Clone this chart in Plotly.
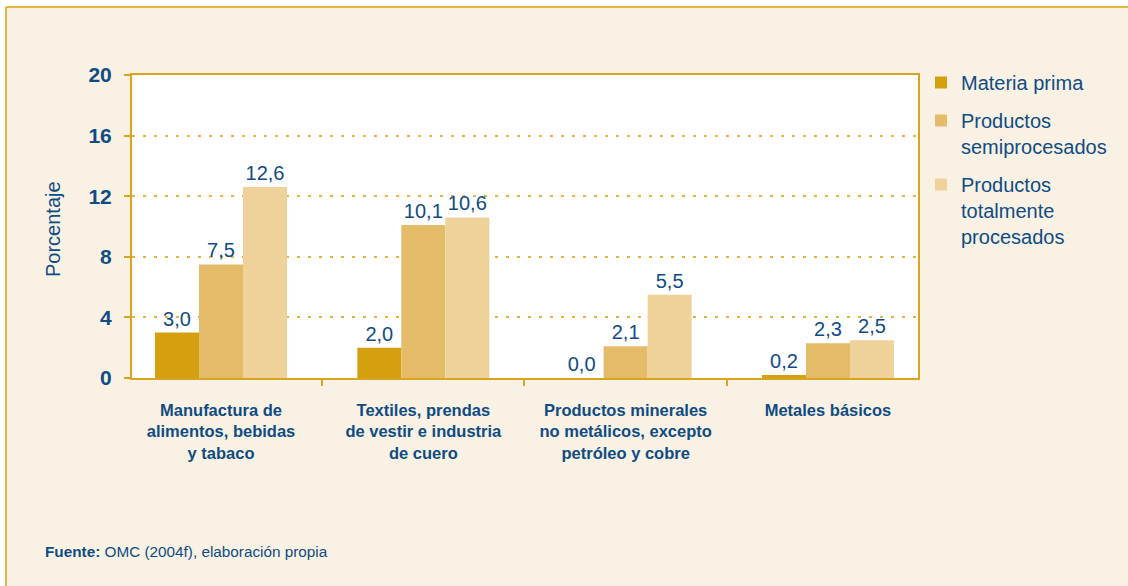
import plotly.graph_objects as go

categories = [
    "Manufactura de<br>alimentos, bebidas<br>y tabaco",
    "Textiles, prendas<br>de vestir e industria<br>de cuero",
    "Productos minerales<br>no metálicos, excepto<br>petróleo y cobre",
    "Metales básicos",
]
series_names = ["Materia prima", "Productos<br>semiprocesados", "Productos<br>totalmente<br>procesados"]
materia_prima = [3.0, 2.0, 0.0, 0.2]
semiprocesados = [7.5, 10.1, 2.1, 2.3]
totalmente_procesados = [12.6, 10.6, 5.5, 2.5]
y_ticks = [0, 4, 8, 12, 16, 20]

colors = ["#D4A010", "#E3BB69", "#EED29A"]
BLUE = "#0F4C84"
GOLD = "#D9A520"
CREAM = "#F9F1E3"
FONT = "Liberation Sans, Arial, sans-serif"

fig = go.Figure()
for i, (name, vals) in enumerate(zip(series_names, [materia_prima, semiprocesados, totalmente_procesados])):
    fig.add_trace(go.Bar(
        x=categories, y=vals, name=name,
        marker=dict(color=colors[i], line=dict(width=0)),
        texttemplate="%{y:.1f}", textposition="outside",
        textfont=dict(family=FONT, size=20, color=BLUE),
        constraintext="none", cliponaxis=False,
        legendgroup=f"g{i}",
    ))

# plot area pixel geometry
L, R, T, B = 132, 918, 75, 378
W, H = 1128, 586
def px(x):
    return (x - L) / (R - L)
def py(y):
    return (B - y) / (B - T)

shapes = [
    dict(type="rect", xref="paper", yref="paper", x0=px(-5), x1=px(6), y0=py(600), y1=py(-5),
         fillcolor="white", line=dict(width=0), layer="below"),
    dict(type="rect", xref="paper", yref="paper", x0=px(-5), x1=px(1135), y0=py(7), y1=py(-5),
         fillcolor="white", line=dict(width=0), layer="below"),
    dict(type="line", xref="paper", yref="paper", x0=px(6), x1=px(6), y0=py(7), y1=py(600),
         line=dict(color="#E3B445", width=2)),
    dict(type="line", xref="paper", yref="paper", x0=px(6), x1=px(1135), y0=py(7), y1=py(7),
         line=dict(color="#E3B445", width=2)),
]

annotations = [
    dict(text="Porcentaje", xref="paper", yref="paper", x=px(53), y=py(229), textangle=-90,
         showarrow=False, font=dict(family=FONT, size=20, color=BLUE), xanchor="center", yanchor="middle"),
    dict(text="<b>Fuente:</b> OMC (2004f), elaboración propia", xref="paper", yref="paper",
         x=px(43), y=py(551), showarrow=False, xanchor="left", yanchor="middle",
         font=dict(family=FONT, size=15.3, color=BLUE)),
]

fig.update_layout(
    width=W, height=H,
    margin=dict(l=L, r=W - R, t=T, b=H - B, autoexpand=False),
    paper_bgcolor=CREAM, plot_bgcolor="white",
    barmode="group", bargap=0.3475, bargroupgap=0,
    separators=",.",
    showlegend=True,
    legend=dict(x=px(921), y=py(63), xanchor="left", yanchor="top",
                font=dict(family=FONT, size=20, color=BLUE), valign="top",
                tracegroupgap=9, bgcolor="rgba(0,0,0,0)", traceorder="grouped"),
    shapes=shapes, annotations=annotations,
    xaxis=dict(range=[-0.44, 3.445], showline=True, linecolor=GOLD, linewidth=2, mirror=True,
               ticks="outside", tickson="boundaries", ticklen=6, tickcolor=GOLD, tickwidth=2,
               tickfont=dict(family=FONT, size=16.5, color=BLUE, weight="bold"),
               ticklabelstandoff=16,
               showgrid=False),
    yaxis=dict(range=[0, 20], tickvals=y_ticks, showline=True, linecolor=GOLD, linewidth=2, mirror=True,
               ticks="outside", ticklen=6, tickcolor=GOLD, tickwidth=2,
               tickfont=dict(family=FONT, size=21, color=BLUE, weight="bold"),
               ticklabelstandoff=8,
               showgrid=True, gridcolor="#E3B545", gridwidth=1.5, griddash="3px,8px",
               zeroline=False),
)

fig.write_html("out.html", config={"displayModeBar": False},
               post_script="document.body.style.margin='0px';document.body.style.overflow='hidden';")
